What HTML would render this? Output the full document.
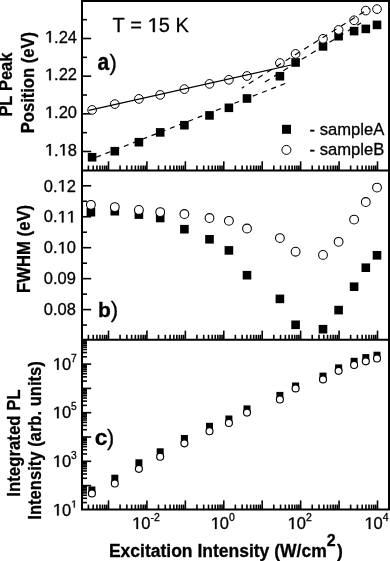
<!DOCTYPE html>
<html><head><meta charset="utf-8"><style>
html,body{margin:0;padding:0;background:#fff;}
svg{display:block;will-change:transform;}
text{font-kerning:none;}
</style></head><body>
<svg width="390" height="561" viewBox="0 0 390 561" font-family="Liberation Sans, sans-serif">
<rect width="390" height="561" fill="#fff"/>
<g stroke="#000" fill="none">
<line x1="88.41" y1="170.50" x2="88.41" y2="165.50" stroke-width="1.6" />
<line x1="93.21" y1="170.50" x2="93.21" y2="165.50" stroke-width="1.6" />
<line x1="96.93" y1="170.50" x2="96.93" y2="165.50" stroke-width="1.6" />
<line x1="99.97" y1="170.50" x2="99.97" y2="165.50" stroke-width="1.6" />
<line x1="102.55" y1="170.50" x2="102.55" y2="165.50" stroke-width="1.6" />
<line x1="104.78" y1="170.50" x2="104.78" y2="165.50" stroke-width="1.6" />
<line x1="106.74" y1="170.50" x2="106.74" y2="165.50" stroke-width="1.6" />
<line x1="108.50" y1="170.50" x2="108.50" y2="161.30" stroke-width="1.6" />
<line x1="120.07" y1="170.50" x2="120.07" y2="165.50" stroke-width="1.6" />
<line x1="126.84" y1="170.50" x2="126.84" y2="165.50" stroke-width="1.6" />
<line x1="131.64" y1="170.50" x2="131.64" y2="165.50" stroke-width="1.6" />
<line x1="135.36" y1="170.50" x2="135.36" y2="165.50" stroke-width="1.6" />
<line x1="138.40" y1="170.50" x2="138.40" y2="165.50" stroke-width="1.6" />
<line x1="140.98" y1="170.50" x2="140.98" y2="165.50" stroke-width="1.6" />
<line x1="143.21" y1="170.50" x2="143.21" y2="165.50" stroke-width="1.6" />
<line x1="145.17" y1="170.50" x2="145.17" y2="165.50" stroke-width="1.6" />
<line x1="146.93" y1="170.50" x2="146.93" y2="161.30" stroke-width="1.6" />
<line x1="158.50" y1="170.50" x2="158.50" y2="165.50" stroke-width="1.6" />
<line x1="165.27" y1="170.50" x2="165.27" y2="165.50" stroke-width="1.6" />
<line x1="170.07" y1="170.50" x2="170.07" y2="165.50" stroke-width="1.6" />
<line x1="173.79" y1="170.50" x2="173.79" y2="165.50" stroke-width="1.6" />
<line x1="176.83" y1="170.50" x2="176.83" y2="165.50" stroke-width="1.6" />
<line x1="179.41" y1="170.50" x2="179.41" y2="165.50" stroke-width="1.6" />
<line x1="181.64" y1="170.50" x2="181.64" y2="165.50" stroke-width="1.6" />
<line x1="183.60" y1="170.50" x2="183.60" y2="165.50" stroke-width="1.6" />
<line x1="185.36" y1="170.50" x2="185.36" y2="161.30" stroke-width="1.6" />
<line x1="196.93" y1="170.50" x2="196.93" y2="165.50" stroke-width="1.6" />
<line x1="203.70" y1="170.50" x2="203.70" y2="165.50" stroke-width="1.6" />
<line x1="208.50" y1="170.50" x2="208.50" y2="165.50" stroke-width="1.6" />
<line x1="212.22" y1="170.50" x2="212.22" y2="165.50" stroke-width="1.6" />
<line x1="215.26" y1="170.50" x2="215.26" y2="165.50" stroke-width="1.6" />
<line x1="217.84" y1="170.50" x2="217.84" y2="165.50" stroke-width="1.6" />
<line x1="220.07" y1="170.50" x2="220.07" y2="165.50" stroke-width="1.6" />
<line x1="222.03" y1="170.50" x2="222.03" y2="165.50" stroke-width="1.6" />
<line x1="223.79" y1="170.50" x2="223.79" y2="161.30" stroke-width="1.6" />
<line x1="235.36" y1="170.50" x2="235.36" y2="165.50" stroke-width="1.6" />
<line x1="242.13" y1="170.50" x2="242.13" y2="165.50" stroke-width="1.6" />
<line x1="246.93" y1="170.50" x2="246.93" y2="165.50" stroke-width="1.6" />
<line x1="250.65" y1="170.50" x2="250.65" y2="165.50" stroke-width="1.6" />
<line x1="253.69" y1="170.50" x2="253.69" y2="165.50" stroke-width="1.6" />
<line x1="256.27" y1="170.50" x2="256.27" y2="165.50" stroke-width="1.6" />
<line x1="258.50" y1="170.50" x2="258.50" y2="165.50" stroke-width="1.6" />
<line x1="260.46" y1="170.50" x2="260.46" y2="165.50" stroke-width="1.6" />
<line x1="262.22" y1="170.50" x2="262.22" y2="161.30" stroke-width="1.6" />
<line x1="273.79" y1="170.50" x2="273.79" y2="165.50" stroke-width="1.6" />
<line x1="280.56" y1="170.50" x2="280.56" y2="165.50" stroke-width="1.6" />
<line x1="285.36" y1="170.50" x2="285.36" y2="165.50" stroke-width="1.6" />
<line x1="289.08" y1="170.50" x2="289.08" y2="165.50" stroke-width="1.6" />
<line x1="292.12" y1="170.50" x2="292.12" y2="165.50" stroke-width="1.6" />
<line x1="294.70" y1="170.50" x2="294.70" y2="165.50" stroke-width="1.6" />
<line x1="296.93" y1="170.50" x2="296.93" y2="165.50" stroke-width="1.6" />
<line x1="298.89" y1="170.50" x2="298.89" y2="165.50" stroke-width="1.6" />
<line x1="300.65" y1="170.50" x2="300.65" y2="161.30" stroke-width="1.6" />
<line x1="312.22" y1="170.50" x2="312.22" y2="165.50" stroke-width="1.6" />
<line x1="318.99" y1="170.50" x2="318.99" y2="165.50" stroke-width="1.6" />
<line x1="323.79" y1="170.50" x2="323.79" y2="165.50" stroke-width="1.6" />
<line x1="327.51" y1="170.50" x2="327.51" y2="165.50" stroke-width="1.6" />
<line x1="330.55" y1="170.50" x2="330.55" y2="165.50" stroke-width="1.6" />
<line x1="333.13" y1="170.50" x2="333.13" y2="165.50" stroke-width="1.6" />
<line x1="335.36" y1="170.50" x2="335.36" y2="165.50" stroke-width="1.6" />
<line x1="337.32" y1="170.50" x2="337.32" y2="165.50" stroke-width="1.6" />
<line x1="339.08" y1="170.50" x2="339.08" y2="161.30" stroke-width="1.6" />
<line x1="350.65" y1="170.50" x2="350.65" y2="165.50" stroke-width="1.6" />
<line x1="357.42" y1="170.50" x2="357.42" y2="165.50" stroke-width="1.6" />
<line x1="362.22" y1="170.50" x2="362.22" y2="165.50" stroke-width="1.6" />
<line x1="365.94" y1="170.50" x2="365.94" y2="165.50" stroke-width="1.6" />
<line x1="368.98" y1="170.50" x2="368.98" y2="165.50" stroke-width="1.6" />
<line x1="371.56" y1="170.50" x2="371.56" y2="165.50" stroke-width="1.6" />
<line x1="373.79" y1="170.50" x2="373.79" y2="165.50" stroke-width="1.6" />
<line x1="375.75" y1="170.50" x2="375.75" y2="165.50" stroke-width="1.6" />
<line x1="377.51" y1="170.50" x2="377.51" y2="161.30" stroke-width="1.6" />
<line x1="88.41" y1="339.80" x2="88.41" y2="334.80" stroke-width="1.6" />
<line x1="93.21" y1="339.80" x2="93.21" y2="334.80" stroke-width="1.6" />
<line x1="96.93" y1="339.80" x2="96.93" y2="334.80" stroke-width="1.6" />
<line x1="99.97" y1="339.80" x2="99.97" y2="334.80" stroke-width="1.6" />
<line x1="102.55" y1="339.80" x2="102.55" y2="334.80" stroke-width="1.6" />
<line x1="104.78" y1="339.80" x2="104.78" y2="334.80" stroke-width="1.6" />
<line x1="106.74" y1="339.80" x2="106.74" y2="334.80" stroke-width="1.6" />
<line x1="108.50" y1="339.80" x2="108.50" y2="330.60" stroke-width="1.6" />
<line x1="120.07" y1="339.80" x2="120.07" y2="334.80" stroke-width="1.6" />
<line x1="126.84" y1="339.80" x2="126.84" y2="334.80" stroke-width="1.6" />
<line x1="131.64" y1="339.80" x2="131.64" y2="334.80" stroke-width="1.6" />
<line x1="135.36" y1="339.80" x2="135.36" y2="334.80" stroke-width="1.6" />
<line x1="138.40" y1="339.80" x2="138.40" y2="334.80" stroke-width="1.6" />
<line x1="140.98" y1="339.80" x2="140.98" y2="334.80" stroke-width="1.6" />
<line x1="143.21" y1="339.80" x2="143.21" y2="334.80" stroke-width="1.6" />
<line x1="145.17" y1="339.80" x2="145.17" y2="334.80" stroke-width="1.6" />
<line x1="146.93" y1="339.80" x2="146.93" y2="330.60" stroke-width="1.6" />
<line x1="158.50" y1="339.80" x2="158.50" y2="334.80" stroke-width="1.6" />
<line x1="165.27" y1="339.80" x2="165.27" y2="334.80" stroke-width="1.6" />
<line x1="170.07" y1="339.80" x2="170.07" y2="334.80" stroke-width="1.6" />
<line x1="173.79" y1="339.80" x2="173.79" y2="334.80" stroke-width="1.6" />
<line x1="176.83" y1="339.80" x2="176.83" y2="334.80" stroke-width="1.6" />
<line x1="179.41" y1="339.80" x2="179.41" y2="334.80" stroke-width="1.6" />
<line x1="181.64" y1="339.80" x2="181.64" y2="334.80" stroke-width="1.6" />
<line x1="183.60" y1="339.80" x2="183.60" y2="334.80" stroke-width="1.6" />
<line x1="185.36" y1="339.80" x2="185.36" y2="330.60" stroke-width="1.6" />
<line x1="196.93" y1="339.80" x2="196.93" y2="334.80" stroke-width="1.6" />
<line x1="203.70" y1="339.80" x2="203.70" y2="334.80" stroke-width="1.6" />
<line x1="208.50" y1="339.80" x2="208.50" y2="334.80" stroke-width="1.6" />
<line x1="212.22" y1="339.80" x2="212.22" y2="334.80" stroke-width="1.6" />
<line x1="215.26" y1="339.80" x2="215.26" y2="334.80" stroke-width="1.6" />
<line x1="217.84" y1="339.80" x2="217.84" y2="334.80" stroke-width="1.6" />
<line x1="220.07" y1="339.80" x2="220.07" y2="334.80" stroke-width="1.6" />
<line x1="222.03" y1="339.80" x2="222.03" y2="334.80" stroke-width="1.6" />
<line x1="223.79" y1="339.80" x2="223.79" y2="330.60" stroke-width="1.6" />
<line x1="235.36" y1="339.80" x2="235.36" y2="334.80" stroke-width="1.6" />
<line x1="242.13" y1="339.80" x2="242.13" y2="334.80" stroke-width="1.6" />
<line x1="246.93" y1="339.80" x2="246.93" y2="334.80" stroke-width="1.6" />
<line x1="250.65" y1="339.80" x2="250.65" y2="334.80" stroke-width="1.6" />
<line x1="253.69" y1="339.80" x2="253.69" y2="334.80" stroke-width="1.6" />
<line x1="256.27" y1="339.80" x2="256.27" y2="334.80" stroke-width="1.6" />
<line x1="258.50" y1="339.80" x2="258.50" y2="334.80" stroke-width="1.6" />
<line x1="260.46" y1="339.80" x2="260.46" y2="334.80" stroke-width="1.6" />
<line x1="262.22" y1="339.80" x2="262.22" y2="330.60" stroke-width="1.6" />
<line x1="273.79" y1="339.80" x2="273.79" y2="334.80" stroke-width="1.6" />
<line x1="280.56" y1="339.80" x2="280.56" y2="334.80" stroke-width="1.6" />
<line x1="285.36" y1="339.80" x2="285.36" y2="334.80" stroke-width="1.6" />
<line x1="289.08" y1="339.80" x2="289.08" y2="334.80" stroke-width="1.6" />
<line x1="292.12" y1="339.80" x2="292.12" y2="334.80" stroke-width="1.6" />
<line x1="294.70" y1="339.80" x2="294.70" y2="334.80" stroke-width="1.6" />
<line x1="296.93" y1="339.80" x2="296.93" y2="334.80" stroke-width="1.6" />
<line x1="298.89" y1="339.80" x2="298.89" y2="334.80" stroke-width="1.6" />
<line x1="300.65" y1="339.80" x2="300.65" y2="330.60" stroke-width="1.6" />
<line x1="312.22" y1="339.80" x2="312.22" y2="334.80" stroke-width="1.6" />
<line x1="318.99" y1="339.80" x2="318.99" y2="334.80" stroke-width="1.6" />
<line x1="323.79" y1="339.80" x2="323.79" y2="334.80" stroke-width="1.6" />
<line x1="327.51" y1="339.80" x2="327.51" y2="334.80" stroke-width="1.6" />
<line x1="330.55" y1="339.80" x2="330.55" y2="334.80" stroke-width="1.6" />
<line x1="333.13" y1="339.80" x2="333.13" y2="334.80" stroke-width="1.6" />
<line x1="335.36" y1="339.80" x2="335.36" y2="334.80" stroke-width="1.6" />
<line x1="337.32" y1="339.80" x2="337.32" y2="334.80" stroke-width="1.6" />
<line x1="339.08" y1="339.80" x2="339.08" y2="330.60" stroke-width="1.6" />
<line x1="350.65" y1="339.80" x2="350.65" y2="334.80" stroke-width="1.6" />
<line x1="357.42" y1="339.80" x2="357.42" y2="334.80" stroke-width="1.6" />
<line x1="362.22" y1="339.80" x2="362.22" y2="334.80" stroke-width="1.6" />
<line x1="365.94" y1="339.80" x2="365.94" y2="334.80" stroke-width="1.6" />
<line x1="368.98" y1="339.80" x2="368.98" y2="334.80" stroke-width="1.6" />
<line x1="371.56" y1="339.80" x2="371.56" y2="334.80" stroke-width="1.6" />
<line x1="373.79" y1="339.80" x2="373.79" y2="334.80" stroke-width="1.6" />
<line x1="375.75" y1="339.80" x2="375.75" y2="334.80" stroke-width="1.6" />
<line x1="377.51" y1="339.80" x2="377.51" y2="330.60" stroke-width="1.6" />
<line x1="88.41" y1="509.60" x2="88.41" y2="504.60" stroke-width="1.6" />
<line x1="93.21" y1="509.60" x2="93.21" y2="504.60" stroke-width="1.6" />
<line x1="96.93" y1="509.60" x2="96.93" y2="504.60" stroke-width="1.6" />
<line x1="99.97" y1="509.60" x2="99.97" y2="504.60" stroke-width="1.6" />
<line x1="102.55" y1="509.60" x2="102.55" y2="504.60" stroke-width="1.6" />
<line x1="104.78" y1="509.60" x2="104.78" y2="504.60" stroke-width="1.6" />
<line x1="106.74" y1="509.60" x2="106.74" y2="504.60" stroke-width="1.6" />
<line x1="108.50" y1="509.60" x2="108.50" y2="500.40" stroke-width="1.6" />
<line x1="120.07" y1="509.60" x2="120.07" y2="504.60" stroke-width="1.6" />
<line x1="126.84" y1="509.60" x2="126.84" y2="504.60" stroke-width="1.6" />
<line x1="131.64" y1="509.60" x2="131.64" y2="504.60" stroke-width="1.6" />
<line x1="135.36" y1="509.60" x2="135.36" y2="504.60" stroke-width="1.6" />
<line x1="138.40" y1="509.60" x2="138.40" y2="504.60" stroke-width="1.6" />
<line x1="140.98" y1="509.60" x2="140.98" y2="504.60" stroke-width="1.6" />
<line x1="143.21" y1="509.60" x2="143.21" y2="504.60" stroke-width="1.6" />
<line x1="145.17" y1="509.60" x2="145.17" y2="504.60" stroke-width="1.6" />
<line x1="146.93" y1="509.60" x2="146.93" y2="500.40" stroke-width="1.6" />
<line x1="158.50" y1="509.60" x2="158.50" y2="504.60" stroke-width="1.6" />
<line x1="165.27" y1="509.60" x2="165.27" y2="504.60" stroke-width="1.6" />
<line x1="170.07" y1="509.60" x2="170.07" y2="504.60" stroke-width="1.6" />
<line x1="173.79" y1="509.60" x2="173.79" y2="504.60" stroke-width="1.6" />
<line x1="176.83" y1="509.60" x2="176.83" y2="504.60" stroke-width="1.6" />
<line x1="179.41" y1="509.60" x2="179.41" y2="504.60" stroke-width="1.6" />
<line x1="181.64" y1="509.60" x2="181.64" y2="504.60" stroke-width="1.6" />
<line x1="183.60" y1="509.60" x2="183.60" y2="504.60" stroke-width="1.6" />
<line x1="185.36" y1="509.60" x2="185.36" y2="500.40" stroke-width="1.6" />
<line x1="196.93" y1="509.60" x2="196.93" y2="504.60" stroke-width="1.6" />
<line x1="203.70" y1="509.60" x2="203.70" y2="504.60" stroke-width="1.6" />
<line x1="208.50" y1="509.60" x2="208.50" y2="504.60" stroke-width="1.6" />
<line x1="212.22" y1="509.60" x2="212.22" y2="504.60" stroke-width="1.6" />
<line x1="215.26" y1="509.60" x2="215.26" y2="504.60" stroke-width="1.6" />
<line x1="217.84" y1="509.60" x2="217.84" y2="504.60" stroke-width="1.6" />
<line x1="220.07" y1="509.60" x2="220.07" y2="504.60" stroke-width="1.6" />
<line x1="222.03" y1="509.60" x2="222.03" y2="504.60" stroke-width="1.6" />
<line x1="223.79" y1="509.60" x2="223.79" y2="500.40" stroke-width="1.6" />
<line x1="235.36" y1="509.60" x2="235.36" y2="504.60" stroke-width="1.6" />
<line x1="242.13" y1="509.60" x2="242.13" y2="504.60" stroke-width="1.6" />
<line x1="246.93" y1="509.60" x2="246.93" y2="504.60" stroke-width="1.6" />
<line x1="250.65" y1="509.60" x2="250.65" y2="504.60" stroke-width="1.6" />
<line x1="253.69" y1="509.60" x2="253.69" y2="504.60" stroke-width="1.6" />
<line x1="256.27" y1="509.60" x2="256.27" y2="504.60" stroke-width="1.6" />
<line x1="258.50" y1="509.60" x2="258.50" y2="504.60" stroke-width="1.6" />
<line x1="260.46" y1="509.60" x2="260.46" y2="504.60" stroke-width="1.6" />
<line x1="262.22" y1="509.60" x2="262.22" y2="500.40" stroke-width="1.6" />
<line x1="273.79" y1="509.60" x2="273.79" y2="504.60" stroke-width="1.6" />
<line x1="280.56" y1="509.60" x2="280.56" y2="504.60" stroke-width="1.6" />
<line x1="285.36" y1="509.60" x2="285.36" y2="504.60" stroke-width="1.6" />
<line x1="289.08" y1="509.60" x2="289.08" y2="504.60" stroke-width="1.6" />
<line x1="292.12" y1="509.60" x2="292.12" y2="504.60" stroke-width="1.6" />
<line x1="294.70" y1="509.60" x2="294.70" y2="504.60" stroke-width="1.6" />
<line x1="296.93" y1="509.60" x2="296.93" y2="504.60" stroke-width="1.6" />
<line x1="298.89" y1="509.60" x2="298.89" y2="504.60" stroke-width="1.6" />
<line x1="300.65" y1="509.60" x2="300.65" y2="500.40" stroke-width="1.6" />
<line x1="312.22" y1="509.60" x2="312.22" y2="504.60" stroke-width="1.6" />
<line x1="318.99" y1="509.60" x2="318.99" y2="504.60" stroke-width="1.6" />
<line x1="323.79" y1="509.60" x2="323.79" y2="504.60" stroke-width="1.6" />
<line x1="327.51" y1="509.60" x2="327.51" y2="504.60" stroke-width="1.6" />
<line x1="330.55" y1="509.60" x2="330.55" y2="504.60" stroke-width="1.6" />
<line x1="333.13" y1="509.60" x2="333.13" y2="504.60" stroke-width="1.6" />
<line x1="335.36" y1="509.60" x2="335.36" y2="504.60" stroke-width="1.6" />
<line x1="337.32" y1="509.60" x2="337.32" y2="504.60" stroke-width="1.6" />
<line x1="339.08" y1="509.60" x2="339.08" y2="500.40" stroke-width="1.6" />
<line x1="350.65" y1="509.60" x2="350.65" y2="504.60" stroke-width="1.6" />
<line x1="357.42" y1="509.60" x2="357.42" y2="504.60" stroke-width="1.6" />
<line x1="362.22" y1="509.60" x2="362.22" y2="504.60" stroke-width="1.6" />
<line x1="365.94" y1="509.60" x2="365.94" y2="504.60" stroke-width="1.6" />
<line x1="368.98" y1="509.60" x2="368.98" y2="504.60" stroke-width="1.6" />
<line x1="371.56" y1="509.60" x2="371.56" y2="504.60" stroke-width="1.6" />
<line x1="373.79" y1="509.60" x2="373.79" y2="504.60" stroke-width="1.6" />
<line x1="375.75" y1="509.60" x2="375.75" y2="504.60" stroke-width="1.6" />
<line x1="377.51" y1="509.60" x2="377.51" y2="500.40" stroke-width="1.6" />
<line x1="82.00" y1="151.49" x2="91.20" y2="151.49" stroke-width="1.6" />
<line x1="82.00" y1="132.66" x2="87.00" y2="132.66" stroke-width="1.6" />
<line x1="82.00" y1="113.83" x2="91.20" y2="113.83" stroke-width="1.6" />
<line x1="82.00" y1="95.00" x2="87.00" y2="95.00" stroke-width="1.6" />
<line x1="82.00" y1="76.16" x2="91.20" y2="76.16" stroke-width="1.6" />
<line x1="82.00" y1="57.33" x2="87.00" y2="57.33" stroke-width="1.6" />
<line x1="82.00" y1="38.50" x2="91.20" y2="38.50" stroke-width="1.6" />
<line x1="82.00" y1="19.66" x2="87.00" y2="19.66" stroke-width="1.6" />
<line x1="82.00" y1="325.08" x2="87.00" y2="325.08" stroke-width="1.6" />
<line x1="82.00" y1="309.60" x2="91.20" y2="309.60" stroke-width="1.6" />
<line x1="82.00" y1="294.12" x2="87.00" y2="294.12" stroke-width="1.6" />
<line x1="82.00" y1="278.65" x2="91.20" y2="278.65" stroke-width="1.6" />
<line x1="82.00" y1="263.18" x2="87.00" y2="263.18" stroke-width="1.6" />
<line x1="82.00" y1="247.70" x2="91.20" y2="247.70" stroke-width="1.6" />
<line x1="82.00" y1="232.23" x2="87.00" y2="232.23" stroke-width="1.6" />
<line x1="82.00" y1="216.75" x2="91.20" y2="216.75" stroke-width="1.6" />
<line x1="82.00" y1="201.27" x2="87.00" y2="201.27" stroke-width="1.6" />
<line x1="82.00" y1="185.80" x2="91.20" y2="185.80" stroke-width="1.6" />
<line x1="82.00" y1="502.58" x2="87.00" y2="502.58" stroke-width="1.6" />
<line x1="82.00" y1="498.31" x2="87.00" y2="498.31" stroke-width="1.6" />
<line x1="82.00" y1="495.27" x2="87.00" y2="495.27" stroke-width="1.6" />
<line x1="82.00" y1="492.92" x2="87.00" y2="492.92" stroke-width="1.6" />
<line x1="82.00" y1="490.99" x2="87.00" y2="490.99" stroke-width="1.6" />
<line x1="82.00" y1="489.36" x2="87.00" y2="489.36" stroke-width="1.6" />
<line x1="82.00" y1="487.95" x2="87.00" y2="487.95" stroke-width="1.6" />
<line x1="82.00" y1="486.71" x2="87.00" y2="486.71" stroke-width="1.6" />
<line x1="82.00" y1="485.60" x2="91.20" y2="485.60" stroke-width="1.6" />
<line x1="82.00" y1="478.28" x2="87.00" y2="478.28" stroke-width="1.6" />
<line x1="82.00" y1="474.01" x2="87.00" y2="474.01" stroke-width="1.6" />
<line x1="82.00" y1="470.97" x2="87.00" y2="470.97" stroke-width="1.6" />
<line x1="82.00" y1="468.62" x2="87.00" y2="468.62" stroke-width="1.6" />
<line x1="82.00" y1="466.69" x2="87.00" y2="466.69" stroke-width="1.6" />
<line x1="82.00" y1="465.06" x2="87.00" y2="465.06" stroke-width="1.6" />
<line x1="82.00" y1="463.65" x2="87.00" y2="463.65" stroke-width="1.6" />
<line x1="82.00" y1="462.41" x2="87.00" y2="462.41" stroke-width="1.6" />
<line x1="82.00" y1="461.30" x2="91.20" y2="461.30" stroke-width="1.6" />
<line x1="82.00" y1="453.98" x2="87.00" y2="453.98" stroke-width="1.6" />
<line x1="82.00" y1="449.71" x2="87.00" y2="449.71" stroke-width="1.6" />
<line x1="82.00" y1="446.67" x2="87.00" y2="446.67" stroke-width="1.6" />
<line x1="82.00" y1="444.32" x2="87.00" y2="444.32" stroke-width="1.6" />
<line x1="82.00" y1="442.39" x2="87.00" y2="442.39" stroke-width="1.6" />
<line x1="82.00" y1="440.76" x2="87.00" y2="440.76" stroke-width="1.6" />
<line x1="82.00" y1="439.35" x2="87.00" y2="439.35" stroke-width="1.6" />
<line x1="82.00" y1="438.11" x2="87.00" y2="438.11" stroke-width="1.6" />
<line x1="82.00" y1="437.00" x2="91.20" y2="437.00" stroke-width="1.6" />
<line x1="82.00" y1="429.68" x2="87.00" y2="429.68" stroke-width="1.6" />
<line x1="82.00" y1="425.41" x2="87.00" y2="425.41" stroke-width="1.6" />
<line x1="82.00" y1="422.37" x2="87.00" y2="422.37" stroke-width="1.6" />
<line x1="82.00" y1="420.02" x2="87.00" y2="420.02" stroke-width="1.6" />
<line x1="82.00" y1="418.09" x2="87.00" y2="418.09" stroke-width="1.6" />
<line x1="82.00" y1="416.46" x2="87.00" y2="416.46" stroke-width="1.6" />
<line x1="82.00" y1="415.05" x2="87.00" y2="415.05" stroke-width="1.6" />
<line x1="82.00" y1="413.81" x2="87.00" y2="413.81" stroke-width="1.6" />
<line x1="82.00" y1="412.70" x2="91.20" y2="412.70" stroke-width="1.6" />
<line x1="82.00" y1="405.38" x2="87.00" y2="405.38" stroke-width="1.6" />
<line x1="82.00" y1="401.11" x2="87.00" y2="401.11" stroke-width="1.6" />
<line x1="82.00" y1="398.07" x2="87.00" y2="398.07" stroke-width="1.6" />
<line x1="82.00" y1="395.72" x2="87.00" y2="395.72" stroke-width="1.6" />
<line x1="82.00" y1="393.79" x2="87.00" y2="393.79" stroke-width="1.6" />
<line x1="82.00" y1="392.16" x2="87.00" y2="392.16" stroke-width="1.6" />
<line x1="82.00" y1="390.75" x2="87.00" y2="390.75" stroke-width="1.6" />
<line x1="82.00" y1="389.51" x2="87.00" y2="389.51" stroke-width="1.6" />
<line x1="82.00" y1="388.40" x2="91.20" y2="388.40" stroke-width="1.6" />
<line x1="82.00" y1="381.08" x2="87.00" y2="381.08" stroke-width="1.6" />
<line x1="82.00" y1="376.81" x2="87.00" y2="376.81" stroke-width="1.6" />
<line x1="82.00" y1="373.77" x2="87.00" y2="373.77" stroke-width="1.6" />
<line x1="82.00" y1="371.42" x2="87.00" y2="371.42" stroke-width="1.6" />
<line x1="82.00" y1="369.49" x2="87.00" y2="369.49" stroke-width="1.6" />
<line x1="82.00" y1="367.86" x2="87.00" y2="367.86" stroke-width="1.6" />
<line x1="82.00" y1="366.45" x2="87.00" y2="366.45" stroke-width="1.6" />
<line x1="82.00" y1="365.21" x2="87.00" y2="365.21" stroke-width="1.6" />
<line x1="82.00" y1="364.10" x2="91.20" y2="364.10" stroke-width="1.6" />
<line x1="82.00" y1="356.78" x2="87.00" y2="356.78" stroke-width="1.6" />
<line x1="82.00" y1="352.51" x2="87.00" y2="352.51" stroke-width="1.6" />
<line x1="82.00" y1="349.47" x2="87.00" y2="349.47" stroke-width="1.6" />
<line x1="82.00" y1="347.12" x2="87.00" y2="347.12" stroke-width="1.6" />
<line x1="82.00" y1="345.19" x2="87.00" y2="345.19" stroke-width="1.6" />
<line x1="82.00" y1="343.56" x2="87.00" y2="343.56" stroke-width="1.6" />
<line x1="82.00" y1="342.15" x2="87.00" y2="342.15" stroke-width="1.6" />
<line x1="82.00" y1="340.91" x2="87.00" y2="340.91" stroke-width="1.6" />
<path d="M82.0 509.6 V0.9 H389.0 V509.6 Z" fill="none" stroke-width="2.0"/>
<line x1="82.0" y1="170.5" x2="389.0" y2="170.5" stroke-width="2.0"/>
<line x1="82.0" y1="339.8" x2="389.0" y2="339.8" stroke-width="2.0"/>
</g>
<g fill="#000" stroke="#000" stroke-width="0">
<rect x="87.80" y="152.95" width="8.6" height="8.6"/>
<rect x="110.50" y="146.90" width="8.6" height="8.6"/>
<rect x="134.60" y="137.90" width="8.6" height="8.6"/>
<rect x="155.90" y="128.10" width="8.6" height="8.6"/>
<rect x="180.10" y="120.90" width="8.6" height="8.6"/>
<rect x="205.20" y="111.10" width="8.6" height="8.6"/>
<rect x="224.60" y="103.50" width="8.6" height="8.6"/>
<rect x="242.70" y="94.20" width="8.6" height="8.6"/>
<rect x="275.60" y="71.90" width="8.6" height="8.6"/>
<rect x="291.30" y="58.20" width="8.6" height="8.6"/>
<rect x="318.70" y="42.10" width="8.6" height="8.6"/>
<rect x="334.30" y="31.90" width="8.6" height="8.6"/>
<rect x="349.80" y="26.80" width="8.6" height="8.6"/>
<rect x="361.50" y="24.60" width="8.6" height="8.6"/>
<rect x="372.70" y="20.60" width="8.6" height="8.6"/>
<circle cx="92.10" cy="109.90" r="4.35" fill="#fff" stroke="#000" stroke-width="1.0"/>
<circle cx="114.80" cy="104.10" r="4.35" fill="#fff" stroke="#000" stroke-width="1.0"/>
<circle cx="138.90" cy="98.90" r="4.35" fill="#fff" stroke="#000" stroke-width="1.0"/>
<circle cx="160.20" cy="94.90" r="4.35" fill="#fff" stroke="#000" stroke-width="1.0"/>
<circle cx="184.40" cy="89.10" r="4.35" fill="#fff" stroke="#000" stroke-width="1.0"/>
<circle cx="209.50" cy="83.90" r="4.35" fill="#fff" stroke="#000" stroke-width="1.0"/>
<circle cx="228.90" cy="79.80" r="4.35" fill="#fff" stroke="#000" stroke-width="1.0"/>
<circle cx="247.00" cy="76.00" r="4.35" fill="#fff" stroke="#000" stroke-width="1.0"/>
<circle cx="279.90" cy="63.00" r="4.35" fill="#fff" stroke="#000" stroke-width="1.0"/>
<circle cx="295.60" cy="53.90" r="4.35" fill="#fff" stroke="#000" stroke-width="1.0"/>
<circle cx="323.00" cy="38.80" r="4.35" fill="#fff" stroke="#000" stroke-width="1.0"/>
<circle cx="338.60" cy="29.90" r="4.35" fill="#fff" stroke="#000" stroke-width="1.0"/>
<circle cx="354.10" cy="20.30" r="4.35" fill="#fff" stroke="#000" stroke-width="1.0"/>
<circle cx="365.80" cy="10.60" r="4.35" fill="#fff" stroke="#000" stroke-width="1.0"/>
<circle cx="377.00" cy="9.10" r="4.35" fill="#fff" stroke="#000" stroke-width="1.0"/>
<line x1="88.8" y1="110.4" x2="291" y2="65.0" stroke-width="1.2"/>
<g stroke-width="1.2">
<line x1="96.20" y1="157.22" x2="286.20" y2="83.10" stroke-dasharray="5.04 4.85" stroke-dashoffset="0.00"/>
<line x1="264.90" y1="82.05" x2="361.00" y2="22.90" stroke-dasharray="5.52 5.31" stroke-dashoffset="0.00"/>
<line x1="241.70" y1="88.20" x2="369.20" y2="8.50" stroke-dasharray="5.54 5.33" stroke-dashoffset="2.54"/>
</g>
<rect x="86.60" y="207.90" width="8.6" height="8.6"/>
<rect x="110.50" y="206.90" width="8.6" height="8.6"/>
<rect x="134.60" y="210.30" width="8.6" height="8.6"/>
<rect x="155.90" y="213.70" width="8.6" height="8.6"/>
<rect x="180.10" y="224.90" width="8.6" height="8.6"/>
<rect x="205.20" y="235.00" width="8.6" height="8.6"/>
<rect x="224.60" y="246.10" width="8.6" height="8.6"/>
<rect x="242.70" y="270.90" width="8.6" height="8.6"/>
<rect x="275.60" y="294.60" width="8.6" height="8.6"/>
<rect x="291.30" y="320.50" width="8.6" height="8.6"/>
<rect x="318.70" y="324.90" width="8.6" height="8.6"/>
<rect x="334.30" y="305.80" width="8.6" height="8.6"/>
<rect x="349.80" y="282.40" width="8.6" height="8.6"/>
<rect x="361.50" y="263.40" width="8.6" height="8.6"/>
<rect x="372.70" y="251.00" width="8.6" height="8.6"/>
<circle cx="90.90" cy="204.80" r="4.4" fill="#fff" stroke="#000" stroke-width="1.05"/>
<circle cx="114.80" cy="207.10" r="4.4" fill="#fff" stroke="#000" stroke-width="1.05"/>
<circle cx="138.90" cy="209.90" r="4.4" fill="#fff" stroke="#000" stroke-width="1.05"/>
<circle cx="160.20" cy="212.10" r="4.4" fill="#fff" stroke="#000" stroke-width="1.05"/>
<circle cx="184.40" cy="214.00" r="4.4" fill="#fff" stroke="#000" stroke-width="1.05"/>
<circle cx="209.50" cy="218.00" r="4.4" fill="#fff" stroke="#000" stroke-width="1.05"/>
<circle cx="228.90" cy="220.80" r="4.4" fill="#fff" stroke="#000" stroke-width="1.05"/>
<circle cx="247.00" cy="228.50" r="4.4" fill="#fff" stroke="#000" stroke-width="1.05"/>
<circle cx="279.90" cy="238.10" r="4.4" fill="#fff" stroke="#000" stroke-width="1.05"/>
<circle cx="295.60" cy="251.70" r="4.4" fill="#fff" stroke="#000" stroke-width="1.05"/>
<circle cx="323.00" cy="254.90" r="4.4" fill="#fff" stroke="#000" stroke-width="1.05"/>
<circle cx="338.60" cy="241.80" r="4.4" fill="#fff" stroke="#000" stroke-width="1.05"/>
<circle cx="354.10" cy="219.60" r="4.4" fill="#fff" stroke="#000" stroke-width="1.05"/>
<circle cx="365.80" cy="202.00" r="4.4" fill="#fff" stroke="#000" stroke-width="1.05"/>
<circle cx="377.00" cy="187.60" r="4.4" fill="#fff" stroke="#000" stroke-width="1.05"/>
<rect x="88.40" y="486.50" width="7.0" height="7.0"/>
<rect x="111.30" y="474.70" width="7.0" height="7.0"/>
<rect x="135.40" y="459.30" width="7.0" height="7.0"/>
<rect x="156.70" y="448.30" width="7.0" height="7.0"/>
<rect x="180.90" y="435.00" width="7.0" height="7.0"/>
<rect x="206.00" y="422.80" width="7.0" height="7.0"/>
<rect x="225.40" y="415.50" width="7.0" height="7.0"/>
<rect x="243.50" y="405.40" width="7.0" height="7.0"/>
<rect x="276.40" y="391.90" width="7.0" height="7.0"/>
<rect x="292.10" y="382.50" width="7.0" height="7.0"/>
<rect x="319.50" y="372.60" width="7.0" height="7.0"/>
<rect x="335.10" y="364.40" width="7.0" height="7.0"/>
<rect x="350.60" y="357.80" width="7.0" height="7.0"/>
<rect x="362.30" y="354.10" width="7.0" height="7.0"/>
<rect x="373.50" y="351.70" width="7.0" height="7.0"/>
<circle cx="91.90" cy="493.40" r="3.5" fill="#fff" stroke="#000" stroke-width="1.15"/>
<circle cx="114.80" cy="483.50" r="3.5" fill="#fff" stroke="#000" stroke-width="1.15"/>
<circle cx="138.90" cy="468.80" r="3.5" fill="#fff" stroke="#000" stroke-width="1.15"/>
<circle cx="160.20" cy="456.70" r="3.5" fill="#fff" stroke="#000" stroke-width="1.15"/>
<circle cx="184.40" cy="443.30" r="3.5" fill="#fff" stroke="#000" stroke-width="1.15"/>
<circle cx="209.50" cy="431.20" r="3.5" fill="#fff" stroke="#000" stroke-width="1.15"/>
<circle cx="228.90" cy="423.00" r="3.5" fill="#fff" stroke="#000" stroke-width="1.15"/>
<circle cx="247.00" cy="412.60" r="3.5" fill="#fff" stroke="#000" stroke-width="1.15"/>
<circle cx="279.90" cy="399.50" r="3.5" fill="#fff" stroke="#000" stroke-width="1.15"/>
<circle cx="295.60" cy="388.40" r="3.5" fill="#fff" stroke="#000" stroke-width="1.15"/>
<circle cx="323.00" cy="379.40" r="3.5" fill="#fff" stroke="#000" stroke-width="1.15"/>
<circle cx="338.60" cy="370.80" r="3.5" fill="#fff" stroke="#000" stroke-width="1.15"/>
<circle cx="354.10" cy="365.00" r="3.5" fill="#fff" stroke="#000" stroke-width="1.15"/>
<circle cx="365.80" cy="361.30" r="3.5" fill="#fff" stroke="#000" stroke-width="1.15"/>
<circle cx="377.00" cy="358.50" r="3.5" fill="#fff" stroke="#000" stroke-width="1.15"/>
</g>
<g fill="#000"><rect x="282.00" y="124.80" width="9.0" height="9.0"/><circle cx="286.40" cy="149.90" r="4.5" fill="#fff" stroke="#000" stroke-width="1.0"/></g>
<g fill="#000" stroke="#000" stroke-width="0.3" stroke-linejoin="round">
<text x="77.0" y="42.56" text-anchor="end" font-size="16.5"> .24</text>
<text x="77.0" y="80.22" text-anchor="end" font-size="16.5"> .22</text>
<text x="77.0" y="117.89" text-anchor="end" font-size="16.5"> .20</text>
<text x="77.0" y="155.55" text-anchor="end" font-size="16.5"> . 8</text>
<text x="75.9" y="191.50" text-anchor="end" font-size="16.5">0. 2</text>
<text x="75.9" y="222.45" text-anchor="end" font-size="16.5">0.  </text>
<text x="75.9" y="253.40" text-anchor="end" font-size="16.5">0. 0</text>
<text x="75.9" y="284.35" text-anchor="end" font-size="16.5">0.09</text>
<text x="75.9" y="315.30" text-anchor="end" font-size="16.5">0.08</text>
<text x="52.75" y="369.70" font-size="16.5"> 0<tspan font-size="10.2" dy="-7.9">7</tspan></text>
<text x="52.75" y="418.30" font-size="16.5"> 0<tspan font-size="10.2" dy="-7.9">5</tspan></text>
<text x="52.75" y="466.90" font-size="16.5"> 0<tspan font-size="10.2" dy="-7.9">3</tspan></text>
<text x="52.75" y="515.50" font-size="16.5"> 0<tspan font-size="10.2" dy="-7.9"> </tspan></text>
<text x="145.93" y="529.0" text-anchor="middle" font-size="16.5"> 0<tspan font-size="10.5" dy="-8.0">-2</tspan></text>
<text x="222.79" y="529.0" text-anchor="middle" font-size="16.5"> 0<tspan font-size="10.5" dy="-8.0">0</tspan></text>
<text x="299.65" y="529.0" text-anchor="middle" font-size="16.5"> 0<tspan font-size="10.5" dy="-8.0">2</tspan></text>
<text x="376.51" y="529.0" text-anchor="middle" font-size="16.5"> 0<tspan font-size="10.5" dy="-8.0">4</tspan></text>
<text transform="translate(12.3,84.6) rotate(-90) scale(0.98,1.04)" text-anchor="middle" font-size="16.8" font-weight="bold">PL Peak</text>
<text transform="translate(34,82.6) rotate(-90) scale(0.988,1.04)" text-anchor="middle" font-size="16.8" font-weight="bold">Position (eV)</text>
<text transform="translate(30,248.9) rotate(-90) scale(0.995,1.04)" text-anchor="middle" font-size="16.8" font-weight="bold">FWHM (eV)</text>
<text transform="translate(20,443.0) rotate(-90) scale(1.0,1.04)" text-anchor="middle" font-size="16.8" font-weight="bold">Integrated PL</text>
<text transform="translate(41.2,440.4) rotate(-90) scale(0.988,1.04)" text-anchor="middle" font-size="16.8" font-weight="bold">Intensity (arb. units)</text>
<text x="108.9" y="557.0" font-size="17.5" font-weight="bold">Excitation Intensity (W/cm<tspan font-size="16" dy="-10.6">2</tspan><tspan dy="10.6" dx="1.3">)</tspan></text>
<text x="112.6" y="32.1" font-size="20">T =  5 K</text>
<text transform="translate(97.6,69.6) scale(1,1.12)" font-size="21" font-weight="bold">a</text>
<text x="109.5" y="70.3" font-size="22">)</text>
<text x="98.0" y="316.6" font-size="21" font-weight="bold">b</text>
<text x="110.8" y="317.4" font-size="22.2">)</text>
<text x="94.8" y="444.8" font-size="22.8" font-weight="bold">c</text>
<text x="107.0" y="444.6" font-size="21.6">)</text>
<text x="309.5" y="135" font-size="16.6">- sampleA</text>
<text x="309.5" y="154.5" font-size="16.6">- sampleB</text>
<path d="M49.23 42.56 L49.23 32.59 L46.46 34.42 L46.46 33.05 L49.31 31.12 L50.84 31.12 L50.84 42.56Z"/>
<path d="M49.23 80.22 L49.23 70.25 L46.46 72.08 L46.46 70.71 L49.31 68.78 L50.84 68.78 L50.84 80.22Z"/>
<path d="M49.23 117.89 L49.23 107.92 L46.46 109.75 L46.46 108.38 L49.31 106.45 L50.84 106.45 L50.84 117.89Z"/>
<path d="M49.23 155.55 L49.23 145.58 L46.46 147.41 L46.46 146.04 L49.31 144.11 L50.84 144.11 L50.84 155.55Z"/>
<path d="M62.98 155.55 L62.98 145.58 L60.21 147.41 L60.21 146.04 L63.06 144.11 L64.59 144.11 L64.59 155.55Z"/>
<path d="M61.88 191.50 L61.88 181.53 L59.11 183.36 L59.11 181.99 L61.96 180.06 L63.49 180.06 L63.49 191.50Z"/>
<path d="M61.88 222.45 L61.88 212.48 L59.11 214.31 L59.11 212.94 L61.96 211.01 L63.49 211.01 L63.49 222.45Z"/>
<path d="M71.05 222.45 L71.05 212.48 L68.28 214.31 L68.28 212.94 L71.13 211.01 L72.66 211.01 L72.66 222.45Z"/>
<path d="M61.88 253.40 L61.88 243.43 L59.11 245.26 L59.11 243.89 L61.96 241.96 L63.49 241.96 L63.49 253.40Z"/>
<path d="M57.10 369.70 L57.10 359.73 L54.34 361.56 L54.34 360.19 L57.18 358.26 L58.71 358.26 L58.71 369.70Z"/>
<path d="M57.10 418.30 L57.10 408.33 L54.34 410.16 L54.34 408.79 L57.18 406.86 L58.71 406.86 L58.71 418.30Z"/>
<path d="M57.10 466.90 L57.10 456.93 L54.34 458.76 L54.34 457.39 L57.18 455.46 L58.71 455.46 L58.71 466.90Z"/>
<path d="M57.10 515.50 L57.10 505.53 L54.34 507.36 L54.34 505.99 L57.18 504.06 L58.71 504.06 L58.71 515.50Z"/>
<path d="M73.80 507.60 L73.80 501.44 L72.09 502.57 L72.09 501.72 L73.85 500.53 L74.79 500.53 L74.79 507.60Z"/>
<path d="M136.43 529.00 L136.43 519.03 L133.67 520.86 L133.67 519.49 L136.51 517.56 L138.04 517.56 L138.04 529.00Z"/>
<path d="M215.04 529.00 L215.04 519.03 L212.28 520.86 L212.28 519.49 L215.12 517.56 L216.65 517.56 L216.65 529.00Z"/>
<path d="M291.90 529.00 L291.90 519.03 L289.14 520.86 L289.14 519.49 L291.98 517.56 L293.51 517.56 L293.51 529.00Z"/>
<path d="M368.76 529.00 L368.76 519.03 L366.00 520.86 L366.00 519.49 L368.84 517.56 L370.37 517.56 L370.37 529.00Z"/>
<path d="M152.87 32.10 L152.87 20.02 L149.52 22.24 L149.52 20.58 L152.97 18.23 L154.83 18.23 L154.83 32.10Z"/>
</g>
</svg>
</body></html>
